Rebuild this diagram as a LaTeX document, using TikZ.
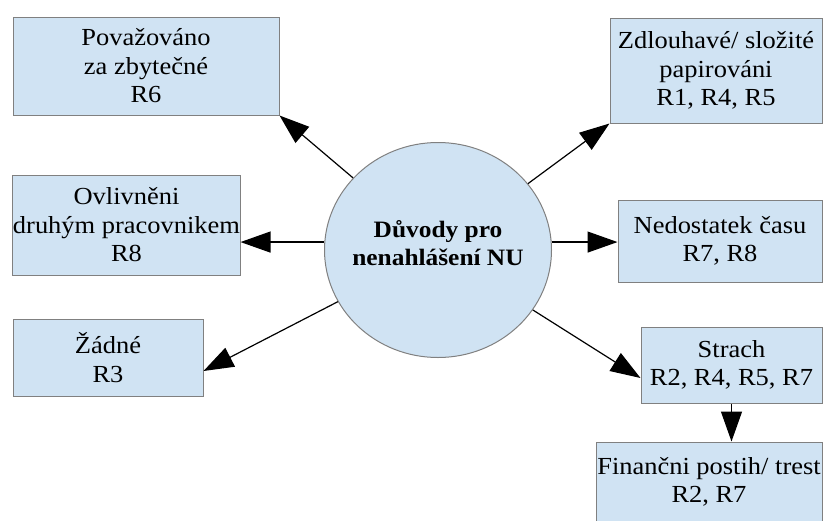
\documentclass[tikz,border=0pt]{standalone}
\usepackage{fontspec}
\setmainfont{Liberation Serif}[FakeStretch=1.08]
\usetikzlibrary{arrows.meta,shapes.geometric}
\definecolor{boxfill}{RGB}{208,227,243}
\definecolor{boxline}{RGB}{128,128,128}
\begin{document}
\begin{tikzpicture}[x=1pt,y=-1pt,
  reason/.style={draw=boxline, fill=boxfill, line width=1pt, rectangle,
    inner sep=0pt, align=center, font=\fontsize{24.5}{28.5}\selectfont},
  hub/.style={draw=boxline, fill=boxfill, line width=1pt, ellipse, inner sep=0pt},
  hubtext/.style={align=center, inner sep=0pt, font=\fontsize{23.5}{28}\selectfont\bfseries},
  arr/.style={-{Triangle[length=30pt,width=21pt]}, line width=1.2pt, black}]
\useasboundingbox (0,0) rectangle (824,520);
\clip (0,0) rectangle (824,520);
\fill[white] (0,0) rectangle (824,520);

% central hub
\node[hub, minimum width=227pt, minimum height=215pt] (c) at (438,250) {};
\node[hubtext] (ct) at (438,243) {Důvody pro\\nenahlášení NU};

% reasons
\node[reason, minimum width=266pt, minimum height=98pt]  (p) at (146,66)    {Považováno\\za zbytečné\\R6};
\node[reason, minimum width=227pt, minimum height=100pt] (o) at (126.5,225) {Ovlivněni\\druhým pracovnikem\\R8};
\node[reason, minimum width=190pt, minimum height=77pt]  (z) at (108,357.5) {Žádné\\R3};
\node[reason, minimum width=212pt, minimum height=105pt] (d) at (716,70.5)  {Zdlouhavé/ složité\\papirováni\\R1, R4, R5};
\node[reason, minimum width=204pt, minimum height=82pt]  (n) at (720,241)   {Nedostatek času\\R7, R8};
\node[reason, minimum width=181pt, minimum height=76pt]  (s) at (731.5,365) {Strach\\R2, R4, R5, R7};
\node[reason, minimum width=226pt, minimum height=80pt]  (f) at (709,482)   {Finančni postih/ trest\\R2, R7};

% connectors
\draw[arr] (c) -- (p.south east);
\draw[arr] (c) -- (d.south west);
\draw[arr] (c.176) -- (c.176 -| o.east);
\draw[arr] (c.4) -- (c.4 -| n.west);
\draw[arr] (c) -- ([yshift=-13.5pt]z.east);
\draw[arr] (c) -- ([yshift=-13pt]s.west);
\draw[arr] (s.south) -- (s.south |- f.north);
\end{tikzpicture}
\end{document}
